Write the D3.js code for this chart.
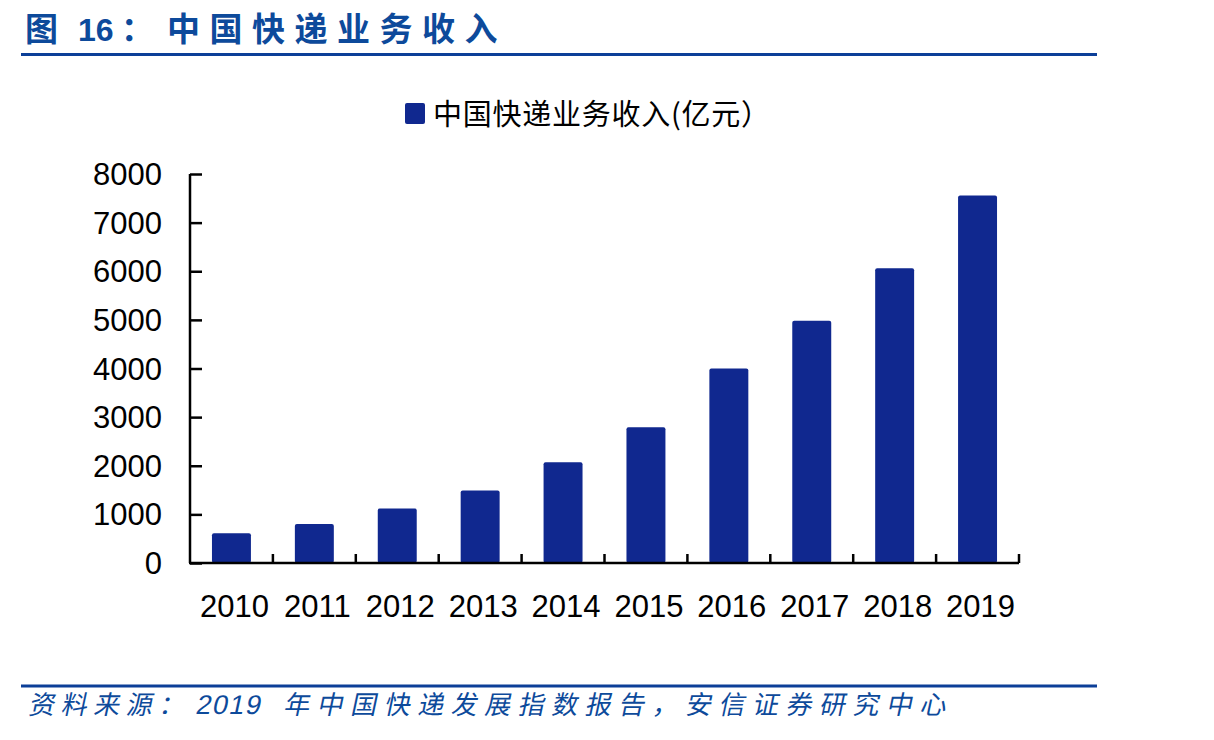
<!DOCTYPE html>
<html><head><meta charset="utf-8">
<script src="https://cdn.jsdelivr.net/npm/d3@7/dist/d3.min.js"></script>
<style>body{margin:0;background:#fff}svg{display:block}</style>
</head><body>
<svg id="c" width="1214" height="740"></svg>
<script>
const years = ["2010","2011","2012","2013","2014","2015","2016","2017","2018","2019"];
const revenue = [610, 800, 1120, 1490, 2070, 2790, 4000, 4980, 6060, 7560];
const yTicks = [0,1000,2000,3000,4000,5000,6000,7000,8000];
const seriesName = "中国快递业务收入(亿元）";
const titleParts = ["图", "16", "：", "中国快递业务收入"];
const sourceParts = ["资料来源：", "2019", "年中国快递发展指数报告，安信证券研究中心"];

const svg = d3.select("#c");
const blue = "#0d4a9b";
const barColor = "#10288f";
const cjk = "'Noto Sans CJK SC','Liberation Sans',sans-serif";
const latin = "'Liberation Sans',Arial,sans-serif";

// title
const tPos = [{x:25, f:cjk, ls:0, fs:33}, {x:78, f:latin, ls:0, fs:32}, {x:121, f:cjk, ls:0, fs:33}, {x:167, f:cjk, ls:9.5, fs:33}];
titleParts.forEach((t,i)=>{
  svg.append("text").attr("x",tPos[i].x).attr("y",41)
    .attr("font-family",tPos[i].f).attr("font-weight","bold").attr("font-size",tPos[i].fs)
    .attr("letter-spacing",tPos[i].ls).attr("fill",blue).text(t);
});
svg.append("line").attr("x1",21).attr("x2",1097).attr("y1",54.5).attr("y2",54.5)
  .attr("stroke","#0c3f98").attr("stroke-width",3);

// source
svg.append("line").attr("x1",21).attr("x2",1097).attr("y1",686).attr("y2",686)
  .attr("stroke","#0c3f98").attr("stroke-width",3);
const sPos = [{x:28, f:cjk, ls:6.5, fs:26}, {x:195, f:latin, ls:1.5, fs:27}, {x:283, f:cjk, ls:7.5, fs:26}];
sourceParts.forEach((t,i)=>{
  svg.append("text").attr("transform",`translate(${sPos[i].x},714) skewX(-12)`)
    .attr("font-family",sPos[i].f).attr("font-size",sPos[i].fs).attr("fill",blue)
    .attr("letter-spacing",sPos[i].ls).text(t);
});

// scales
const x = d3.scaleBand().domain(years).range([190,1019]).paddingInner(0.53).paddingOuter(0.265);
const y = d3.scaleLinear().domain([0,8000]).range([563,174]);

// bars
svg.append("g").selectAll("rect").data(years).join("rect")
  .attr("x",d=>x(d)).attr("width",x.bandwidth())
  .attr("y",(d,i)=>y(revenue[i])).attr("height",(d,i)=>y(0)-y(revenue[i]))
  .attr("rx",2).attr("fill",barColor);

// y axis
const ya = svg.append("g").attr("transform","translate(190,0)")
  .call(d3.axisRight(y).tickValues(yTicks).tickSize(12).tickFormat(""));
ya.select(".domain").attr("stroke","#000").attr("stroke-width",2.5).attr("d","M0,174V563");
ya.selectAll(".tick line").attr("stroke","#000").attr("stroke-width",2.5);
svg.append("g").selectAll("text").data(yTicks).join("text")
  .attr("x",162).attr("y",d=>y(d)+11).attr("text-anchor","end")
  .attr("font-family",latin).attr("font-size",31).attr("fill","#000")
  .text(d=>d);

// x axis
const xa = svg.append("g").attr("transform","translate(0,563)");
xa.append("line").attr("x1",189).attr("x2",1019).attr("stroke","#000").attr("stroke-width",2.5);
const step = x.step();
const bounds = years.map(d=>x(d) - (step-x.bandwidth())/2 + step);
xa.selectAll("line.t").data(bounds).join("line").attr("class","t")
  .attr("x1",d=>d).attr("x2",d=>d).attr("y1",0).attr("y2",-9)
  .attr("stroke","#000").attr("stroke-width",2.5);
svg.append("g").selectAll("text").data(years).join("text")
  .attr("x",d=>x(d)+x.bandwidth()/2+3).attr("y",617).attr("text-anchor","middle")
  .attr("font-family",latin).attr("font-size",31).attr("fill","#000")
  .text(d=>d);

// legend
svg.append("rect").attr("x",405).attr("y",103).attr("width",20).attr("height",21).attr("rx",2).attr("fill",barColor);
svg.append("text").attr("x",433).attr("y",125)
  .attr("font-family",cjk).attr("font-size",29).attr("fill","#000")
  .attr("textLength",337).attr("lengthAdjust","spacing")
  .text(seriesName);
</script>
</body></html>
